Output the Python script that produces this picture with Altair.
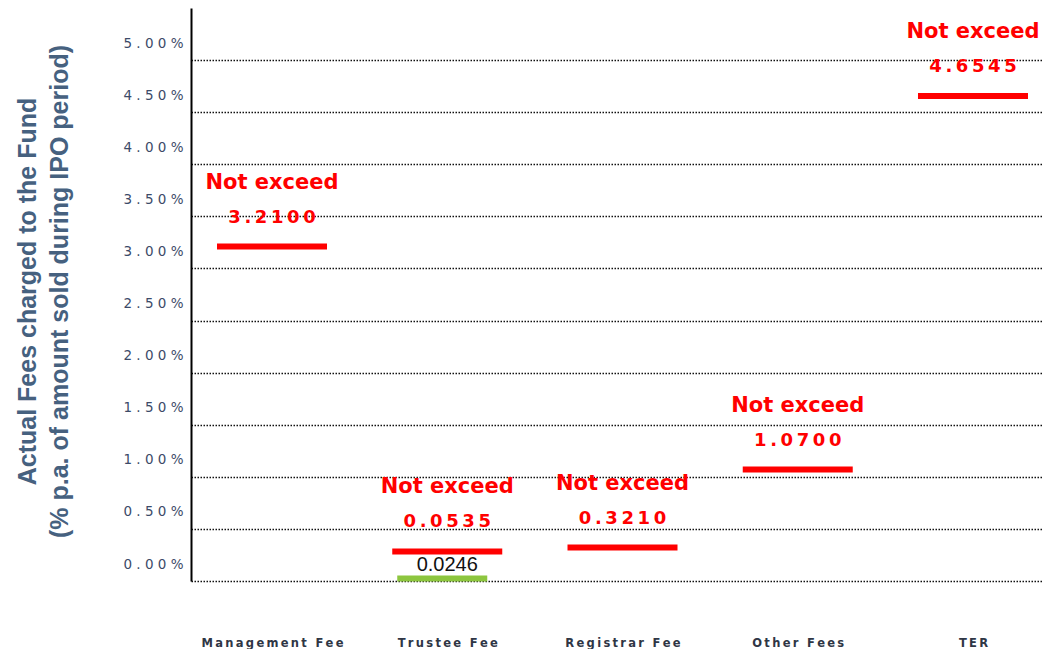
import altair as alt
import pandas as pd

categories = ["Management Fee", "Trustee Fee", "Registrar Fee", "Other Fees", "TER"]
limits = [3.21, 0.0535, 0.321, 1.07, 4.6545]
actual_cats = ["Trustee Fee"]
actual_vals = [0.0246]
y_ticks = [0.0, 0.5, 1.0, 1.5, 2.0, 2.5, 3.0, 3.5, 4.0, 4.5, 5.0]

lim_df = pd.DataFrame({"fee": categories, "value": limits})
act_df = pd.DataFrame({"fee": actual_cats, "value": actual_vals})

x_enc = alt.X(
    "fee:N",
    sort=categories,
    scale=alt.Scale(type="point", padding=0.428, align=0.54),
    axis=alt.Axis(
        title=None, domain=False, ticks=False, grid=False, labelAngle=0,
        labelPadding=56, labelFont="DejaVu Sans", labelFontWeight="bold",
        labelFontSize=11.5, labelColor="#2f3645", labelBaseline="top",
        labelExpr="join(split(datum.label, ''), '\u2009')",
    ),
)
y_scale = alt.Scale(domain=[0, 5.5], nice=False, zero=True)
y_enc = alt.Y(
    "value:Q",
    scale=y_scale,
    axis=alt.Axis(
        values=y_ticks,
        title=["Actual Fees charged to the Fund", "(% p.a. of amount sold during IPO period)"],
        titleFont="Liberation Sans", titleFontSize=25, titleFontWeight="bold",
        titleColor="#46617f", titleAngle=-90, titleAlign="center", titleBaseline="top",
        titleX=-176, titleY=283, titleLineHeight=32,
        labelExpr="join(split(format(datum.value, '.2f') + '%', ''), ' ')",
        labelFont="DejaVu Sans", labelFontSize=13.5, labelColor="#3c4a68",
        labelOffset=-17, labelPadding=8, ticks=False,
        domain=True, domainColor="#000000", domainWidth=2,
        grid=True, gridColor="#111111", gridDash=[1.5, 1.5], gridWidth=1.3,
    ),
)

x_plain = alt.X("fee:N", sort=categories)
y_plain = alt.Y("value:Q")


def limit_layers(flt, off, with_axes):
    base = alt.Chart(lim_df).transform_filter(flt)
    tick = base.mark_tick(
        color="#ff0000", size=110, thickness=6, opacity=1, yOffset=off
    ).encode(x=x_enc if with_axes else x_plain, y=y_enc if with_axes else y_plain)
    val = base.transform_calculate(
        lbl="join(split(format(datum.value, '.4f'), ''), '\u2009')"
    ).mark_text(
        color="#ff0000", font="DejaVu Sans", fontWeight="bold", fontSize=18,
        dy=-29, yOffset=off, baseline="middle", align="center",
    ).encode(x=x_plain, y=y_plain, text="lbl:N")
    ne = base.mark_text(
        color="#ff0000", font="DejaVu Sans", fontWeight="bold", fontSize=21,
        dy=-64, yOffset=off, baseline="middle", align="center", text="Not exceed",
    ).encode(x=x_plain, y=y_plain)
    return [tick, val, ne]


layers = (limit_layers("datum.fee != 'Trustee Fee'", 0, True)
          + limit_layers("datum.fee == 'Trustee Fee'", -24, False))

green_tick = alt.Chart(act_df).mark_tick(
    color="#8dc63f", size=90, thickness=6, opacity=1, xOffset=-5
).encode(x=x_plain, y=y_plain)

green_text = alt.Chart(act_df).transform_calculate(
    lbl="format(datum.value, '.4f')"
).mark_text(
    color="#111111", font="Liberation Sans", fontSize=20, dy=-13, xOffset=0,
    baseline="middle", align="center",
).encode(x=x_plain, y=y_plain, text="lbl:N")

chart = alt.layer(*layers, green_tick, green_text).properties(
    width=851, height=573,
    background="white",
    autosize=alt.AutoSizeParams(type="none"),
    padding={"left": 183, "top": 0, "right": 0, "bottom": 68},
).configure_view(stroke="transparent", strokeWidth=0)

chart.save("out.html", embed_options={"renderer": "svg", "actions": False})
